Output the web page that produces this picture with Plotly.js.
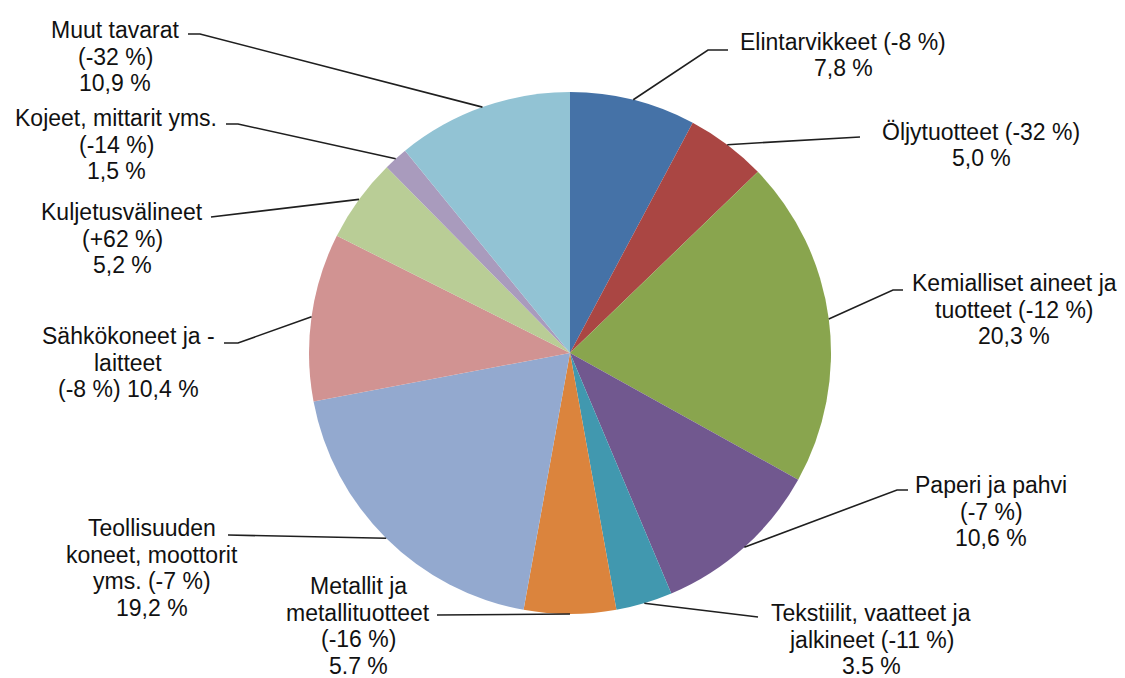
<!DOCTYPE html>
<html>
<head>
<meta charset="utf-8">
<script src="https://cdn.plot.ly/plotly-3.0.1.min.js"></script>
<style>html,body{margin:0;padding:0;background:#fff;}#chart{width:1125px;height:678px;}</style>
</head>
<body>
<div id="chart"></div>
<script>
// ---- data ----
const categories = ["Elintarvikkeet", "Öljytuotteet", "Kemialliset aineet ja tuotteet", "Paperi ja pahvi",
  "Tekstiilit, vaatteet ja jalkineet", "Metallit ja metallituotteet", "Teollisuuden koneet, moottorit yms.",
  "Sähkökoneet ja -laitteet", "Kuljetusvälineet", "Kojeet, mittarit yms.", "Muut tavarat"];
const shares = [7.8, 5.0, 20.3, 10.6, 3.5, 5.7, 19.2, 10.4, 5.2, 1.5, 10.9];
const changes = ["-8 %", "-32 %", "-12 %", "-7 %", "-11 %", "-16 %", "-7 %", "-8 %", "+62 %", "-14 %", "-32 %"];
const labelLines = [
  ["Elintarvikkeet (-8 %)", "7,8 %"],
  ["Öljytuotteet (-32 %)", "5,0 %"],
  ["Kemialliset aineet ja", "tuotteet (-12 %)", "20,3 %"],
  ["Paperi ja pahvi", "(-7 %)", "10,6 %"],
  ["Tekstiilit, vaatteet ja", "jalkineet (-11 %)", "3.5 %"],
  ["Metallit ja", "metallituotteet", "(-16 %)", "5.7 %"],
  ["Teollisuuden", "koneet, moottorit", "yms. (-7 %)", "19,2 %"],
  ["Sähkökoneet ja -", "laitteet", "(-8 %) 10,4 %"],
  ["Kuljetusvälineet", "(+62 %)", "5,2 %"],
  ["Kojeet, mittarit yms.", "(-14 %)", "1,5 %"],
  ["Muut tavarat", "(-32 %)", "10,9 %"]
];
const colors = ["#4572A7", "#AA4643", "#89A54E", "#71588F", "#4198AF", "#DB843D",
  "#93A9CF", "#D19392", "#B9CD96", "#A99BBD", "#92C3D4"];

// ---- layout (pixels) ----
const W = 1125, H = 678;
const CX = 570, CY = 353, R = 261;
const LINE_H = 26.5;
// label centre x, first line centre y
const labelPos = [
  [843, 42], [981, 132], [1014, 283], [991, 485], [871, 613], [358, 586],
  [152, 528], [128, 336], [122, 212], [116, 118], [115, 30]
];
// leader points from the text side towards the slice (edge point is computed)
const leaderPts = [
  [[728, 50], [708, 50]],
  [[860, 137]],
  [[903, 290], [893, 290]],
  [[908, 490], [897, 490]],
  [[758, 617]],
  [[437, 615]],
  [[228, 535]],
  [[224, 343], [238, 343]],
  [[211, 217]],
  [[226, 124], [238, 124]],
  [[188, 34], [200, 34]]
];

const px = x => x / W;
const py = y => 1 - y / H;

const total = shares.reduce((a, b) => a + b, 0);
const shapes = [];
const annotations = [];
let cum = 0;
shares.forEach((v, i) => {
  const mid = (cum + v / 2) / total * 2 * Math.PI;
  cum += v;
  const ex = CX + R * Math.sin(mid);
  const ey = CY - R * Math.cos(mid);
  const pts = leaderPts[i].concat([[ex, ey]]);
  let path = "M " + px(pts[0][0]) + " " + py(pts[0][1]);
  for (let k = 1; k < pts.length; k++) path += " L " + px(pts[k][0]) + " " + py(pts[k][1]);
  shapes.push({type: "path", xref: "paper", yref: "paper", path: path,
    line: {color: "#1f1f1f", width: 1.6}});
  labelLines[i].forEach((t, j) => {
    annotations.push({xref: "paper", yref: "paper", x: px(labelPos[i][0]), y: py(labelPos[i][1] + j * LINE_H),
      xanchor: "center", yanchor: "middle", showarrow: false, text: t,
      font: {family: "Liberation Sans, Arial, sans-serif", size: 23, color: "#111111"}});
  });
});

const trace = {
  type: "pie",
  labels: categories,
  values: shares,
  customdata: changes,
  sort: false,
  direction: "clockwise",
  rotation: 0,
  textinfo: "none",
  hoverinfo: "label+value",
  marker: {colors: colors, line: {color: "#ffffff", width: 0}},
  domain: {x: [px(CX - R), px(CX + R)], y: [py(CY + R), py(CY - R)]},
  showlegend: false
};

Plotly.newPlot("chart", [trace], {
  width: W, height: H,
  margin: {l: 0, r: 0, t: 0, b: 0},
  paper_bgcolor: "#ffffff",
  showlegend: false,
  shapes: shapes,
  annotations: annotations
}, {displayModeBar: false, staticPlot: true});
</script>
</body>
</html>
